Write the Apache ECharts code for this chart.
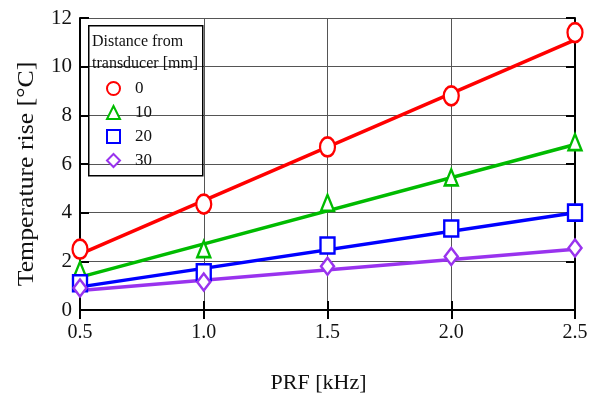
<!DOCTYPE html>
<html>
<head>
<meta charset="utf-8">
<script src="https://cdn.jsdelivr.net/npm/echarts@6/dist/echarts.min.js"></script>
<style>html,body{margin:0;padding:0;background:#fff}#main{width:595px;height:399px}</style>
</head>
<body>
<div id="main"></div>
<script>
var prf = [0.5, 1.0, 1.5, 2.0, 2.5];
var names = ['0', '10', '20', '30'];
var colors = ['#ff0000', '#00bb00', '#0000ff', '#9933ee'];
var symbols = ['circle', 'triangle', 'rect', 'diamond'];
var sizes = [[15, 19], [13, 16], [14, 16], [13, 17]];
var rise0 = [2.5, 4.35, 6.7, 8.8, 11.4];
var rise10 = [1.65, 2.5, 4.4, 5.45, 6.9];
var rise20 = [1.1, 1.55, 2.65, 3.35, 4.0];
var rise30 = [0.9, 1.15, 1.8, 2.2, 2.55];
// fitted line ends at 0.5 and 2.5 kHz
var fit0 = [2.3, 11.1];
var fit10 = [1.35, 6.8];
var fit20 = [0.95, 4.0];
var fit30 = [0.8, 2.5];

var points = [rise0, rise10, rise20, rise30];
var fits = [fit0, fit10, fit20, fit30];
var serif = '"Liberation Serif", "DejaVu Serif", serif';

var series = [];
fits.forEach(function (f, i) {
  series.push({
    type: 'line',
    data: [[0.5, f[0]], [2.5, f[1]]],
    showSymbol: false,
    lineStyle: { color: colors[i], width: 3.5 },
    silent: true,
    z: 2
  });
});
points.forEach(function (p, i) {
  series.push({
    name: names[i],
    type: 'scatter',
    data: prf.map(function (x, k) { return [x, p[k]]; }),
    symbol: symbols[i],
    symbolSize: sizes[i],
    itemStyle: { color: '#fff', opacity: 1, borderColor: colors[i], borderWidth: 2.5 },
    z: 3
  });
});

var chart = echarts.init(document.getElementById('main'));
chart.setOption({
  animation: false,
  grid: { left: 80, right: 20, top: 18, bottom: 89 },
  xAxis: [{
    type: 'value', min: 0.5, max: 2.5, interval: 0.5,
    name: 'PRF [kHz]', nameLocation: 'middle', nameGap: 62,
    nameTextStyle: { fontFamily: serif, fontSize: 22, color: '#111', padding: [0, 18, 0, 0] },
    axisLine: { lineStyle: { color: '#000', width: 2 } },
    axisTick: { inside: true, length: 9, lineStyle: { color: '#000', width: 2 } },
    axisLabel: { fontFamily: serif, fontSize: 20, color: '#111', margin: 13,
      formatter: function (v) { return v.toFixed(1); } },
    splitLine: { show: true, lineStyle: { color: '#555', width: 1 } }
  }, {
    type: 'value', position: 'top', min: 0.5, max: 2.5, interval: 0.5,
    axisLine: { lineStyle: { color: '#000', width: 2 } },
    axisTick: { inside: true, length: 9, lineStyle: { color: '#000', width: 2 } },
    axisLabel: { show: false }, splitLine: { show: false }
  }],
  yAxis: [{
    type: 'value', min: 0, max: 12, interval: 2,
    axisLine: { show: true, lineStyle: { color: '#000', width: 2 } },
    axisTick: { show: true, inside: true, length: 9, lineStyle: { color: '#000', width: 2 } },
    axisLabel: { fontFamily: serif, fontSize: 21, color: '#111', margin: 8 },
    splitLine: { show: true, lineStyle: { color: '#555', width: 1 } }
  }, {
    type: 'value', position: 'right', min: 0, max: 12, interval: 2,
    axisLine: { show: true, lineStyle: { color: '#000', width: 2 } },
    axisTick: { show: true, inside: true, length: 9, lineStyle: { color: '#000', width: 2 } },
    axisLabel: { show: false }, splitLine: { show: false }
  }],
  legend: {
    data: names,
    orient: 'vertical',
    left: 101, top: 75,
    itemGap: 7,
    itemWidth: 13, itemHeight: 13,
    textStyle: { fontFamily: serif, fontSize: 17, color: '#111', padding: [0, 0, 0, 10] }
  },
  graphic: [{
    type: 'rect', left: 88, top: 25, z: 10,
    shape: { width: 114, height: 150 },
    style: { fill: 'rgba(255,255,255,0)', stroke: '#000', lineWidth: 1.5 }
  }, {
    type: 'text', left: 92, top: 31, z: 10,
    style: { text: 'Distance from\ntransducer [mm]', font: '16px ' + serif, fill: '#111', lineHeight: 22 }
  }, {
    type: 'text', x: 27, y: 174, rotation: Math.PI / 2, scaleX: 1.12,
    style: { text: 'Temperature rise [\u00b0C]', font: '23px ' + serif, fill: '#111',
      align: 'center', verticalAlign: 'middle' }
  }],
  series: series
});
</script>
</body>
</html>
